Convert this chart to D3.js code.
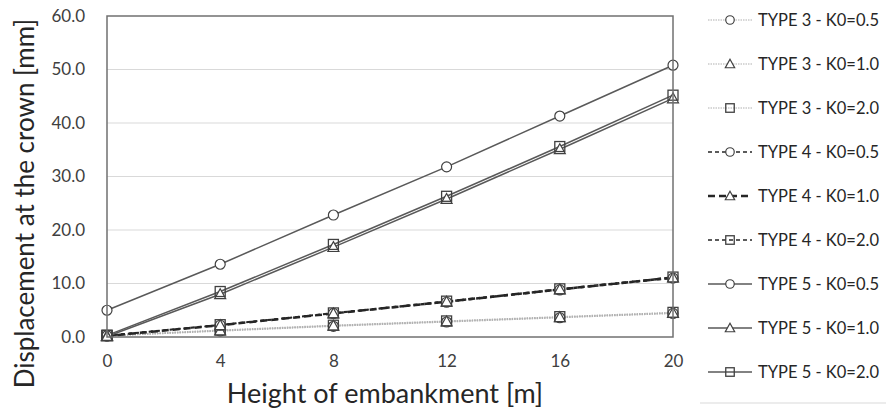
<!DOCTYPE html>
<html>
<head>
<meta charset="utf-8">
<script src="https://cdn.jsdelivr.net/npm/d3@7"></script>
<style>
  html, body { margin: 0; padding: 0; background: #fff; }
  svg { display: block; }
  text { font-family: Lato, "Open Sans", sans-serif; }
</style>
</head>
<body>
<svg id="chart" width="886" height="409"></svg>
<script>
// Embankment height (m)
const heights = [0, 4, 8, 12, 16, 20];

// Crown displacement (mm) per tunnel type and K0
const type3K05 = [0.2, 1.1, 2.0, 2.8, 3.6, 4.4];
const type3K10 = [0.2, 1.2, 2.1, 2.9, 3.7, 4.5];
const type3K20 = [0.3, 1.3, 2.2, 3.0, 3.8, 4.6];
const type4K05 = [0.2, 2.2, 4.4, 6.5, 8.8, 11.0];
const type4K10 = [0.2, 2.2, 4.4, 6.6, 8.9, 11.1];
const type4K20 = [0.3, 2.3, 4.5, 6.7, 9.0, 11.2];
const type5K05 = [5.0, 13.6, 22.8, 31.8, 41.3, 50.8];
const type5K10 = [0.1, 8.0, 16.8, 25.8, 35.1, 44.6];
const type5K20 = [0.3, 8.5, 17.3, 26.3, 35.6, 45.2];

const xTicks = [0, 4, 8, 12, 16, 20];
const yTicks = [0, 10, 20, 30, 40, 50, 60];

const seriesNames = [
  "TYPE 3 - K0=0.5", "TYPE 3 - K0=1.0", "TYPE 3 - K0=2.0",
  "TYPE 4 - K0=0.5", "TYPE 4 - K0=1.0", "TYPE 4 - K0=2.0",
  "TYPE 5 - K0=0.5", "TYPE 5 - K0=1.0", "TYPE 5 - K0=2.0"
];
const seriesValues = [
  type3K05, type3K10, type3K20,
  type4K05, type4K10, type4K20,
  type5K05, type5K10, type5K20
];

// Line and marker styling for each series
const styles = [
  { stroke: "#b0b0b0", width: 1.2, dash: "1.5,1", marker: "circle" },
  { stroke: "#b0b0b0", width: 1.2, dash: "1.5,1", marker: "triangle" },
  { stroke: "#b0b0b0", width: 1.2, dash: "1.5,1", marker: "square" },
  { stroke: "#262626", width: 1.5, dash: "4,3", marker: "circle" },
  { stroke: "#262626", width: 2.5, dash: "7,4", marker: "triangle" },
  { stroke: "#262626", width: 1.5, dash: "4,3", marker: "square" },
  { stroke: "#595959", width: 1.5, dash: null, marker: "circle" },
  { stroke: "#595959", width: 1.5, dash: null, marker: "triangle" },
  { stroke: "#595959", width: 1.5, dash: null, marker: "square" }
];

const series = seriesNames.map((name, i) => ({
  name,
  style: styles[i],
  points: heights.map((h, j) => ({ x: h, y: seriesValues[i][j] }))
}));

const svg = d3.select("#chart");
const plot = { left: 107, right: 673, top: 16, bottom: 337 };

const x = d3.scaleLinear().domain([0, 20]).range([plot.left, plot.right]);
const y = d3.scaleLinear().domain([0, 60]).range([plot.bottom, plot.top]);

// Horizontal gridlines
svg.append("g")
  .selectAll("line")
  .data(yTicks.filter(t => t > 0 && t < 60))
  .join("line")
  .attr("x1", plot.left).attr("x2", plot.right)
  .attr("y1", d => y(d)).attr("y2", d => y(d))
  .attr("stroke", "#d9d9d9").attr("stroke-width", 1);

// Axes (labels only, no tick marks)
const yAxis = svg.append("g")
  .attr("transform", `translate(${plot.left},0)`)
  .call(d3.axisLeft(y).tickValues(yTicks).tickFormat(d3.format(".1f")).tickSize(0).tickPadding(22));
yAxis.select(".domain").remove();
yAxis.selectAll("text")
  .attr("font-size", 17).attr("fill", "#404040")
  .style("font-family", "Lato, sans-serif");

const xAxis = svg.append("g")
  .attr("transform", `translate(0,${plot.bottom})`)
  .call(d3.axisBottom(x).tickValues(xTicks).tickFormat(d3.format("d")).tickSize(0).tickPadding(18));
xAxis.select(".domain").remove();
xAxis.selectAll("text")
  .attr("font-size", 17).attr("fill", "#404040")
  .style("font-family", "Lato, sans-serif");

// Marker drawing
function drawMarker(g, type, cx, cy, stroke, size) {
  const k = size || 1;
  if (type === "circle") {
    g.append("circle").attr("cx", cx).attr("cy", cy).attr("r", 5 * k)
      .attr("fill", "#fff").attr("stroke", stroke).attr("stroke-width", 1.2);
  } else if (type === "square") {
    g.append("rect").attr("x", cx - 5 * k).attr("y", cy - 5 * k)
      .attr("width", 10 * k).attr("height", 10 * k)
      .attr("fill", "none").attr("stroke", stroke).attr("stroke-width", 1.3);
  } else {
    const s = 5.5 * k;
    g.append("path")
      .attr("d", `M${cx},${cy - s}L${cx + s},${cy + s * 0.8}L${cx - s},${cy + s * 0.8}Z`)
      .attr("fill", "#fff").attr("stroke", stroke).attr("stroke-width", 1.2);
  }
}

const line = d3.line().x(d => x(d.x)).y(d => y(d.y));

// Series lines
const linesG = svg.append("g");
series.forEach(s => {
  linesG.append("path")
    .datum(s.points)
    .attr("d", line)
    .attr("fill", "none")
    .attr("stroke", s.style.stroke)
    .attr("stroke-width", s.style.width)
    .attr("stroke-dasharray", s.style.dash);
});

// Series markers
const markersG = svg.append("g");
series.forEach(s => {
  s.points.forEach(p => drawMarker(markersG, s.style.marker, x(p.x), y(p.y), "#404040"));
});

// Plot area frame
svg.append("rect")
  .attr("x", plot.left).attr("y", plot.top)
  .attr("width", plot.right - plot.left).attr("height", plot.bottom - plot.top)
  .attr("fill", "none").attr("stroke", "#707070").attr("stroke-width", 1.5);

// Axis titles
svg.append("text")
  .attr("transform", `translate(34,${(plot.top + plot.bottom) / 2 + 27}) rotate(-90)`)
  .attr("text-anchor", "middle")
  .attr("font-size", 26).attr("fill", "#262626")
  .text("Displacement at the crown [mm]");

svg.append("text")
  .attr("x", 385).attr("y", 403)
  .attr("text-anchor", "middle")
  .attr("font-size", 27).attr("fill", "#262626")
  .text("Height of embankment [m]");

// Legend
const legend = svg.append("g");
series.forEach((s, i) => {
  const ly = 20 + i * 44;
  legend.append("line")
    .attr("x1", 708).attr("x2", 752).attr("y1", ly).attr("y2", ly)
    .attr("stroke", s.style.stroke).attr("stroke-width", s.style.width)
    .attr("stroke-dasharray", s.style.dash);
  drawMarker(legend, s.style.marker, 730, ly, "#404040", 0.85);
  legend.append("text")
    .attr("x", 758).attr("y", ly).attr("dy", "0.35em")
    .attr("font-size", 16.5).attr("fill", "#262626")
    .text(s.name);
});

// Outer chart border fragment
svg.append("line")
  .attr("x1", 700).attr("x2", 886).attr("y1", 403).attr("y2", 403)
  .attr("stroke", "#d9d9d9").attr("stroke-width", 1);
</script>
</body>
</html>
